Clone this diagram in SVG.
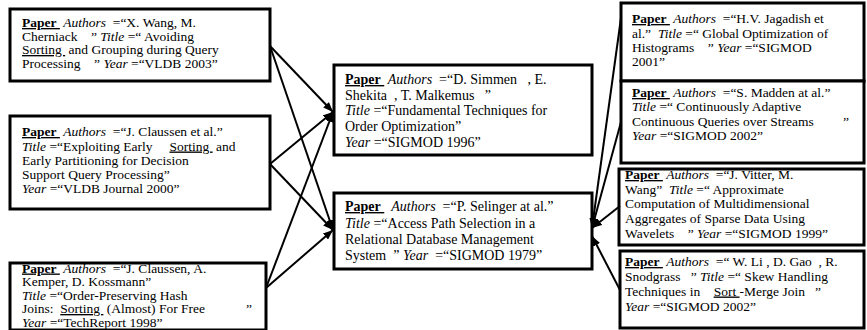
<svg xmlns="http://www.w3.org/2000/svg" width="867" height="330" viewBox="0 0 867 330">
<style>
.box{fill:#fff;stroke:#000;stroke-width:3}
.t{font-family:"Liberation Serif","Times New Roman",serif;font-size:13.5px;fill:#000}
.c{font-size:14px}
.b{font-weight:bold;text-decoration:underline}
.i{font-style:italic}
.u{text-decoration:underline}
.e{stroke:#000;stroke-width:2;fill:none;marker-end:url(#ah)}
</style>
<defs>
<marker id="ah" markerUnits="userSpaceOnUse" markerWidth="10" markerHeight="8" refX="10" refY="4" orient="auto"><path d="M0,0 L10,4 L0,8 z" fill="#000"/></marker>
</defs>
<rect width="867" height="330" fill="#fff"/>
<g id="n1">
<rect class="box" x="10" y="9" width="260" height="72"/>
<text class="t" xml:space="preserve" x="22" y="27"><tspan class="b">Paper&#160;</tspan> <tspan class="i">Authors</tspan>  =“X. Wang, M.</text>
<text class="t" xml:space="preserve" x="22" y="40.5">Cherniack    ” <tspan class="i">Title</tspan> =“ Avoiding</text>
<text class="t" xml:space="preserve" x="22" y="54"><tspan class="u">Sorting&#160;</tspan> and Grouping during Query</text>
<text class="t" xml:space="preserve" x="22" y="67.5">Processing    ” <tspan class="i">Year</tspan> =“VLDB 2003”</text>
</g>
<g id="n2">
<rect class="box" x="10" y="116" width="260" height="93"/>
<text class="t" xml:space="preserve" x="22" y="136"><tspan class="b">Paper&#160;</tspan> <tspan class="i">Authors</tspan>  =“J. Claussen et al.”</text>
<text class="t" xml:space="preserve" x="22" y="150.5"><tspan class="i">Title</tspan> =“Exploiting Early     <tspan class="u">Sorting&#160;</tspan> and</text>
<text class="t" xml:space="preserve" x="22" y="165">Early Partitioning for Decision</text>
<text class="t" xml:space="preserve" x="22" y="179">Support Query Processing”</text>
<text class="t" xml:space="preserve" x="22" y="193"><tspan class="i">Year</tspan> =“VLDB Journal 2000”</text>
</g>
<g id="n3">
<rect class="box" x="10" y="263" width="256" height="67"/>
<text class="t" xml:space="preserve" x="22" y="272.5"><tspan class="b">Paper&#160;</tspan> <tspan class="i">Authors</tspan>  =“J. Claussen, A.</text>
<text class="t" xml:space="preserve" x="22" y="286">Kemper, D. Kossmann”</text>
<text class="t" xml:space="preserve" x="22" y="299.5"><tspan class="i">Title</tspan> =“Order-Preserving Hash</text>
<text class="t" xml:space="preserve" x="22" y="313">Joins:  <tspan class="u">Sorting&#160;</tspan> (Almost) For Free<tspan x="246">”</tspan></text>
<text class="t" xml:space="preserve" x="22" y="326.5"><tspan class="i">Year</tspan> =“TechReport 1998”</text>
</g>
<g id="n4">
<rect class="box" x="334" y="65" width="258" height="90"/>
<text class="t c" xml:space="preserve" x="345" y="84"><tspan class="b">Paper&#160;</tspan> <tspan class="i">Authors</tspan>  =“D. Simmen   , E.</text>
<text class="t c" xml:space="preserve" x="345" y="99.5">Shekita  , T. Malkemus   ”</text>
<text class="t c" xml:space="preserve" x="345" y="115"><tspan class="i">Title</tspan> =“Fundamental Techniques for</text>
<text class="t c" xml:space="preserve" x="345" y="131">Order Optimization”</text>
<text class="t c" xml:space="preserve" x="345" y="147"><tspan class="i">Year</tspan> =“SIGMOD 1996”</text>
</g>
<g id="n5">
<rect class="box" x="334" y="193" width="258" height="76"/>
<text class="t c" xml:space="preserve" x="345" y="211"><tspan class="b">Paper&#160;</tspan>  <tspan class="i">Authors</tspan>  =“P. Selinger at al.”</text>
<text class="t c" xml:space="preserve" x="345" y="227.5"><tspan class="i">Title</tspan> =“Access Path Selection in a</text>
<text class="t c" xml:space="preserve" x="345" y="244">Relational Database Management</text>
<text class="t c" xml:space="preserve" x="345" y="260">System  ” <tspan class="i">Year</tspan>  =“SIGMOD 1979”</text>
</g>
<g id="n6">
<rect class="box" x="621" y="3" width="243" height="78"/>
<text class="t" xml:space="preserve" x="632" y="23"><tspan class="b">Paper&#160;</tspan> <tspan class="i">Authors</tspan>  =“H.V. Jagadish et</text>
<text class="t" xml:space="preserve" x="632" y="37.5">al.”  <tspan class="i">Title</tspan> =“ Global Optimization of</text>
<text class="t" xml:space="preserve" x="632" y="51.5">Histograms    ” <tspan class="i">Year</tspan> =“SIGMOD</text>
<text class="t" xml:space="preserve" x="632" y="66">2001”</text>
</g>
<g id="n7">
<rect class="box" x="621" y="81" width="243" height="82"/>
<text class="t" xml:space="preserve" x="632" y="97"><tspan class="b">Paper&#160;</tspan> <tspan class="i">Authors</tspan>  =“S. Madden at al.”</text>
<text class="t" xml:space="preserve" x="632" y="111"><tspan class="i">Title</tspan> =“ Continuously Adaptive</text>
<text class="t" xml:space="preserve" x="632" y="125.5">Continuous Queries over Streams<tspan x="843">”</tspan></text>
<text class="t" xml:space="preserve" x="632" y="140"><tspan class="i">Year</tspan> =“SIGMOD 2002”</text>
</g>
<g id="n8">
<rect class="box" x="619" y="169" width="245" height="76"/>
<text class="t" xml:space="preserve" x="625" y="179"><tspan class="b">Paper&#160;</tspan> <tspan class="i">Authors</tspan>  =“J. Vitter, M.</text>
<text class="t" xml:space="preserve" x="625" y="193.5">Wang”  <tspan class="i">Title</tspan> =“ Approximate</text>
<text class="t" xml:space="preserve" x="625" y="208">Computation of Multidimensional</text>
<text class="t" xml:space="preserve" x="625" y="223">Aggregates of Sparse Data Using</text>
<text class="t" xml:space="preserve" x="625" y="237.5">Wavelets    ” <tspan class="i">Year</tspan> =“SIGMOD 1999”</text>
</g>
<g id="n9">
<rect class="box" x="620" y="251" width="244" height="77"/>
<text class="t" xml:space="preserve" x="625" y="266"><tspan class="b">Paper&#160;</tspan> <tspan class="i">Authors</tspan>  =“ W. Li , D. Gao  , R.</text>
<text class="t" xml:space="preserve" x="625" y="281">Snodgrass   ” <tspan class="i">Title</tspan> =“ Skew Handling</text>
<text class="t" xml:space="preserve" x="625" y="295.5">Techniques in    <tspan class="u">Sort&#160;</tspan>-Merge Join   ”</text>
<text class="t" xml:space="preserve" x="625" y="311"><tspan class="i">Year</tspan> =“SIGMOD 2002”</text>
</g>
<g id="edges">
<path class="e" d="M270,46 L333,112"/>
<path class="e" d="M270,46 L333,230"/>
<path class="e" d="M270,164 L333,112"/>
<path class="e" d="M270,164 L333,230"/>
<path class="e" d="M266,288 L333,112"/>
<path class="e" d="M266,288 L333,230"/>
<path class="e" d="M621,18 L592,228"/>
<path class="e" d="M621,122 L592,228"/>
<path class="e" d="M620,206 L592,228"/>
<path class="e" d="M620,290 L592,236"/>
</g>
</svg>
